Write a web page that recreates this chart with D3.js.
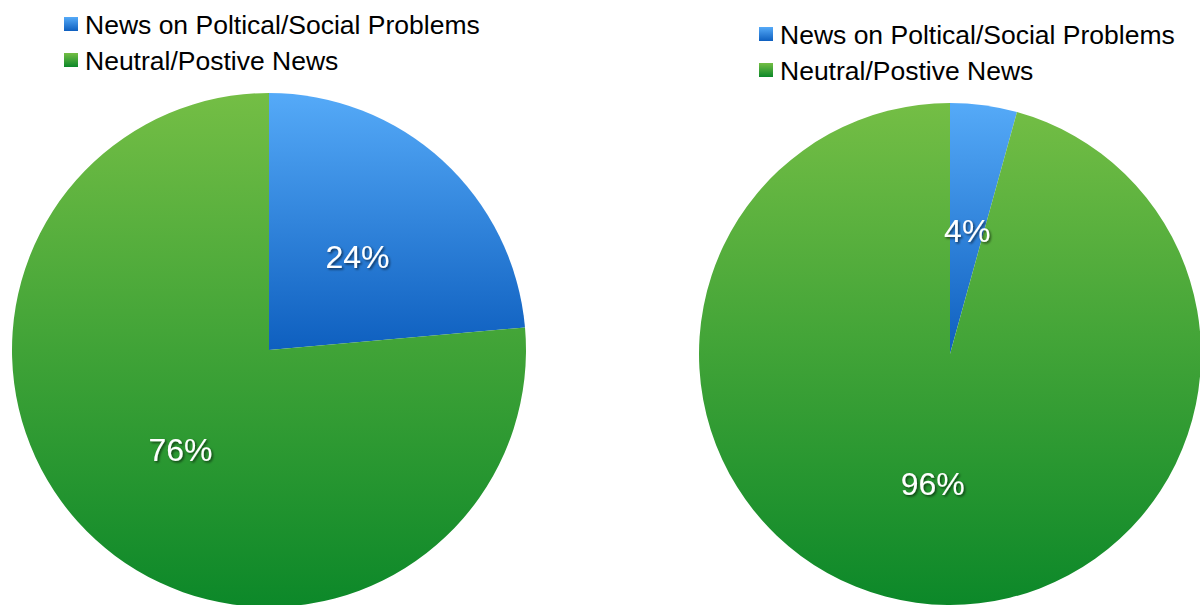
<!DOCTYPE html>
<html><head><meta charset="utf-8">
<script src="https://cdn.jsdelivr.net/npm/d3@7"></script>
<style>body{margin:0;background:#fff}svg{display:block}</style>
</head><body>
<svg id="c" width="1200" height="605"></svg>
<script>
const categories = ["News on Poltical/Social Problems", "Neutral/Postive News"];
const leftValues = [23.6, 76.4];
const rightValues = [4.3, 95.7];
const labelsLeft = ["24%", "76%"];
const labelsRight = ["4%", "96%"];

const svg = d3.select("#c");
const font = "'Liberation Sans', Arial, sans-serif";
const defs = svg.append("defs");
const f = defs.append("filter").attr("id","sh").attr("x","-20%").attr("y","-20%").attr("width","140%").attr("height","140%");
f.append("feDropShadow").attr("dx",1.5).attr("dy",1.5).attr("stdDeviation",0.8).attr("flood-color","#000").attr("flood-opacity",0.6);

function grad(id, c1, c2){
  const g = defs.append("linearGradient").attr("id",id).attr("x1",0).attr("y1",0).attr("x2",0).attr("y2",1);
  g.append("stop").attr("offset","0%").attr("stop-color",c1);
  g.append("stop").attr("offset","100%").attr("stop-color",c2);
}
grad("gb","#55aaf8","#0e5fbf");
grad("gg","#74be45","#0c8829");
const fills = ["url(#gb)","url(#gg)"];

function pie(cx, cy, r, values, labels, lx, ly){
  const g = svg.append("g").attr("transform",`translate(${cx},${cy})`);
  const arcs = d3.pie().sort(null).value(d=>d)(values);
  const arc = d3.arc().innerRadius(0).outerRadius(r);
  g.selectAll("path").data(arcs).join("path").attr("d",arc).attr("fill",(d,i)=>fills[i]);
  const la = d3.arc().innerRadius(r*0.51).outerRadius(r*0.51);
  g.selectAll("text").data(arcs).join("text")
    .attr("transform",d=>`translate(${la.centroid(d)})`)
    .attr("text-anchor","middle").attr("dy","0.45em")
    .attr("font-family",font).attr("font-size",32).attr("fill","#fff")
    .attr("filter","url(#sh)").text((d,i)=>labels[i]);
  const lg = svg.append("g").attr("transform",`translate(${lx},${ly})`);
  categories.forEach((c,i)=>{
    lg.append("rect").attr("x",0).attr("y",i*36-7).attr("width",14).attr("height",14).attr("fill",fills[i]);
    lg.append("text").attr("x",21).attr("y",i*36).attr("dy","0.36em")
      .attr("font-family",font).attr("font-size",26.5).attr("fill","#000").text(c);
  });
}
pie(269, 350, 257, leftValues, labelsLeft, 64, 24);
pie(950, 354, 251, rightValues, labelsRight, 759, 34);
</script>
</body></html>
